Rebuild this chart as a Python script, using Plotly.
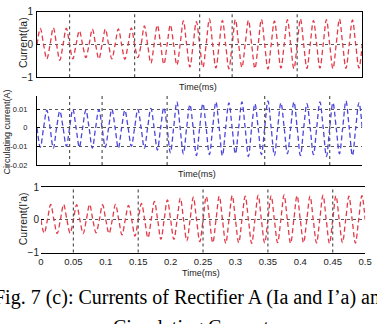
import plotly.graph_objects as go

# ---------------- data ----------------
# per-cycle (50 Hz, 25 cycles over 0..0.5) positive peak and negative trough magnitudes
top_peaks = [0.49, 0.51, 0.50, 0.42, 0.47, 0.47, 0.48, 0.51, 0.57, 0.59, 0.60, 0.72, 0.70,
             0.78, 0.74, 0.76, 0.74, 0.77, 0.72, 0.76, 0.78, 0.74, 0.76, 0.78, 0.75]
top_troughs = [0.44, 0.48, 0.44, 0.40, 0.44, 0.44, 0.45, 0.40, 0.57, 0.60, 0.63, 0.69, 0.70,
               0.72, 0.74, 0.70, 0.73, 0.75, 0.72, 0.74, 0.73, 0.72, 0.74, 0.73, 0.72]
mid_peaks = [0.0095, 0.0090, 0.0100, 0.0095, 0.0098, 0.0100, 0.0095, 0.0100, 0.0105, 0.0110,
             0.0140, 0.0125, 0.0130, 0.0140, 0.0135, 0.0140, 0.0130, 0.0145, 0.0135, 0.0140,
             0.0130, 0.0140, 0.0135, 0.0145, 0.0135]
mid_troughs = [0.0105, 0.0110, 0.0100, 0.0105, 0.0110, 0.0105, 0.0110, 0.0100, 0.0110, 0.0120,
               0.0135, 0.0140, 0.0150, 0.0145, 0.0150, 0.0140, 0.0155, 0.0145, 0.0150, 0.0140,
               0.0150, 0.0145, 0.0155, 0.0140, 0.0150]
bot_peaks = [0.47, 0.47, 0.46, 0.47, 0.46, 0.47, 0.44, 0.50, 0.56, 0.61, 0.66, 0.69, 0.71,
             0.72, 0.74, 0.72, 0.75, 0.73, 0.76, 0.74, 0.72, 0.75, 0.73, 0.72, 0.74]
bot_troughs = [0.41, 0.42, 0.41, 0.42, 0.40, 0.42, 0.46, 0.50, 0.55, 0.60, 0.60, 0.64, 0.67,
               0.70, 0.72, 0.70, 0.72, 0.71, 0.70, 0.72, 0.70, 0.71, 0.72, 0.70, 0.71]
cycle_period = 0.02

x_tickvals = [0, 0.05, 0.1, 0.15, 0.2, 0.25, 0.3, 0.35, 0.4, 0.45, 0.5]
x_ticktext = ["0", "0.05", "0.1", "0.15", "0.2", "0.25", "0.3", "0.35", "0.4", "0.45", "0.5"]
y_tick_top = [-1, 0, 1]
y_tick_mid = [-0.02, -0.01, 0, 0.01]
y_text_mid = ["-0.02", "-0.01", "0", "0.01"]

ylabel_top = "Current(Ia)"
ylabel_mid = "Circulating current(A)"
ylabel_bot = "Current(I'a)"
xlabel = "Time(ms)"
caption1 = "Fig. 7 (c): Currents of Rectifier A (Ia and I’a) and"
caption2 = "Circulating Current"


def wave(peaks, troughs, peak_first):
    t, v = [], []
    for k, (p, q) in enumerate(zip(peaks, troughs)):
        t0 = k * cycle_period
        seq = [0, p, 0, -q] if peak_first else [0, -q, 0, p]
        for j, val in enumerate(seq):
            t.append(t0 + j * cycle_period / 4)
            v.append(val)
    t.append(len(peaks) * cycle_period)
    v.append(0)
    return t, v


W, H = 377, 324


def px(x):
    return x / W


def py(y):
    return 1 - y / H


RED = "#e23a48"
BLUE = "#4b45dc"
GRID = "#555555"
TXT = "#222222"
FONT = "Liberation Sans"

fig = go.Figure()
t1, v1 = wave(top_peaks, top_troughs, True)
t2, v2 = wave(mid_peaks, mid_troughs, False)
t3, v3 = wave(bot_peaks, bot_troughs, False)
dash = "5px,3px"
fig.add_trace(go.Scatter(x=t1, y=v1, mode="lines", line=dict(color=RED, width=1.3, dash=dash, shape="spline"),
                         xaxis="x", yaxis="y", showlegend=False))
fig.add_trace(go.Scatter(x=t2, y=v2, mode="lines", line=dict(color=BLUE, width=1.3, dash=dash, shape="spline"),
                         xaxis="x2", yaxis="y2", showlegend=False))
fig.add_trace(go.Scatter(x=t3, y=v3, mode="lines", line=dict(color=RED, width=1.3, dash=dash, shape="spline"),
                         xaxis="x3", yaxis="y3", showlegend=False))

common_x = dict(range=[0, 0.5], showgrid=False, zeroline=False, linecolor="black", linewidth=1.2,
                ticks="", ticklabeloverflow="allow", tickfont=dict(family=FONT, size=9.5, color=TXT))
common_y = dict(zeroline=False, linecolor="black", linewidth=1.2, ticks="inside", ticklen=3,
                tickcolor="black", showgrid=True, gridcolor=GRID, griddash="dot", gridwidth=1)

fig.update_layout(
    width=W, height=H, margin=dict(l=0, r=0, t=0, b=0),
    paper_bgcolor="white", plot_bgcolor="white",
    xaxis=dict(domain=[px(35), px(369)], anchor="y", showline=True, mirror=True,
               showticklabels=False, **common_x),
    yaxis=dict(domain=[py(74), py(6)], anchor="x", range=[-1, 1], tickvals=y_tick_top,
               showline=True, mirror=True, ticklabelstandoff=1,
               tickfont=dict(family=FONT, size=10, color=TXT), **common_y),
    xaxis2=dict(domain=[px(35), px(369)], anchor="y2", showline=True, mirror=False,
                showticklabels=False, **common_x),
    yaxis2=dict(domain=[py(165), py(93)], anchor="x2", range=[-0.02, 0.0174], tickvals=y_tick_mid,
                ticktext=y_text_mid, showline=True, mirror=False, ticklabelstandoff=7,
                tickfont=dict(family=FONT, size=7.5, color=TXT), **common_y),
    xaxis3=dict(domain=[px(39), px(372)], anchor="y3", showline=True, mirror=True,
                showticklabels=True, tickvals=x_tickvals, ticktext=x_ticktext, **common_x),
    yaxis3=dict(domain=[py(256), py(188)], anchor="x3", range=[-1, 1], tickvals=y_tick_top,
                showline=False, ticklabelstandoff=1,
                tickfont=dict(family=FONT, size=10, color=TXT), **common_y),
)

# vertical dotted grid lines (visible ones in the scan)
vgrid = {"x": [0.05, 0.15, 0.25, 0.3, 0.4], "x2": [0.05, 0.1, 0.2, 0.35, 0.45],
         "x3": [0.05, 0.15, 0.25, 0.35, 0.45]}
ymap = {"x": "y", "x2": "y2", "x3": "y3"}
for xr, xs in vgrid.items():
    for xv in xs:
        fig.add_shape(type="line", xref=xr, yref=ymap[xr] + " domain", x0=xv, x1=xv, y0=0, y1=1,
                      line=dict(color=GRID, width=1.2, dash="dot"))

lab_font = dict(family=FONT, size=9, color=TXT)
ann = [
    dict(x=px(20), y=py(38), text=ylabel_top, textangle=-90, font=dict(family=FONT, size=10.5, color=TXT)),
    dict(x=px(4.5), y=py(131), text=ylabel_mid, textangle=-90, font=lab_font),
    dict(x=px(20), y=py(221), text=ylabel_bot, textangle=-90, font=dict(family=FONT, size=10.5, color=TXT)),
    dict(x=px(200), y=py(84), text=xlabel, font=lab_font),
    dict(x=px(199), y=py(174), text=xlabel, font=lab_font),
    dict(x=px(203), y=py(277), text=xlabel, font=lab_font),
    dict(x=px(194), y=py(303), text=caption1, font=dict(family="Liberation Serif", size=20, color="black")),
    dict(x=px(194), y=py(334), text=caption2, font=dict(family="Liberation Serif", size=20, color="black")),
]
for a in ann:
    fig.add_annotation(xref="paper", yref="paper", showarrow=False, xanchor="center", yanchor="middle", **a)

fig.write_html("out.html")
